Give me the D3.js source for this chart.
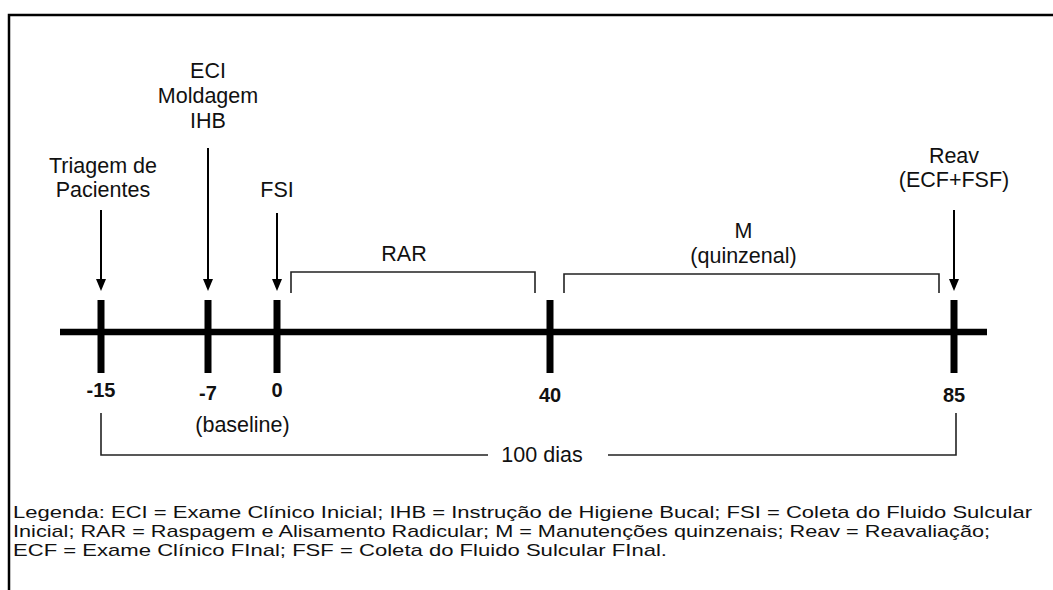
<!DOCTYPE html>
<html>
<head>
<meta charset="utf-8">
<script src="https://cdn.jsdelivr.net/npm/d3@7"></script>
<style>
  body { margin: 0; background: #fff; }
  svg text { font-family: "Liberation Sans", Arial, sans-serif; fill: #111; }
</style>
</head>
<body>
<div id="timeline"></div>
<script>
// timeline data (days relative to baseline)
var days = [-15, -7, 0, 40, 85];
var dayLabels = ["-15", "-7", "0", "40", "85"];

var arrowDays = [-15, -7, 0, 85];
var arrowLabels = [["Triagem de", "Pacientes"], ["ECI", "Moldagem", "IHB"], ["FSI"], ["Reav", "(ECF+FSF)"]];

var phaseStart = [0, 40];
var phaseEnd = [40, 85];
var phaseLabels = [["RAR"], ["M", "(quinzenal)"]];

var spanStart = -15, spanEnd = 85, spanLabel = "100 dias";
var baselineNote = "(baseline)";

var legendLines = [
    "Legenda: ECI = Exame Clínico Inicial; IHB = Instrução de Higiene Bucal; FSI = Coleta do Fluido Sulcular",
    "Inicial; RAR = Raspagem e Alisamento Radicular; M = Manutenções quinzenais; Reav = Reavaliação;",
    "ECF = Exame Clínico FInal; FSF = Coleta do Fluido Sulcular FInal."
];

function drawTimeline(){
    var W = 1053, H = 590;
    var svg = d3.select("#timeline").append("svg")
        .attr("width", W)
        .attr("height", H);

    // frame (top + left only)
    svg.append("path")
        .attr("d", "M9,590 L9,15 L1053,15")
        .attr("fill", "none")
        .attr("stroke", "#000")
        .attr("stroke-width", 2.5);

    // the day axis is not to scale in the figure -> piecewise scale
    var x = d3.scaleLinear()
        .domain(days)
        .range([101, 208, 277, 550, 954]);

    var axisY = 332;

    // main line
    svg.append("line")
        .attr("x1", 60).attr("x2", 987)
        .attr("y1", axisY).attr("y2", axisY)
        .attr("stroke", "#000")
        .attr("stroke-width", 6.5);

    // ticks
    svg.selectAll(".tick")
        .data(days)
        .enter().append("line")
        .attr("class", "tick")
        .attr("x1", function(d){ return x(d); })
        .attr("x2", function(d){ return x(d); })
        .attr("y1", 300).attr("y2", 373)
        .attr("stroke", "#000")
        .attr("stroke-width", 7);

    svg.selectAll(".daylabel")
        .data(days)
        .enter().append("text")
        .attr("class", "daylabel")
        .attr("x", function(d){ return x(d); })
        .attr("y", function(d){ return d >= 40 ? 402 : (d == -7 ? 400 : 397); })
        .attr("text-anchor", "middle")
        .style("font-size", "20px")
        .style("font-weight", "bold")
        .text(function(d, i){ return dayLabels[i]; });

    // arrows
    var arrowTop = [210, 148, 213, 210];
    var labelLastBase = [197, 128, 197, 187];

    arrowDays.forEach(function(d, i){
        svg.append("line")
            .attr("x1", x(d)).attr("x2", x(d))
            .attr("y1", arrowTop[i]).attr("y2", 280)
            .attr("stroke", "#000")
            .attr("stroke-width", 2);
        // head as a triangle ending just above the tick
        svg.append("path")
            .attr("d", "M" + (x(d) - 5) + ",279 L" + (x(d) + 5) + ",279 L" + x(d) + ",291 Z")
            .attr("fill", "#000");

        var lines = arrowLabels[i];
        var n = lines.length;
        svg.append("g").selectAll("text")
            .data(lines)
            .enter().append("text")
            .attr("x", x(d) + (i == 0 ? 2 : 0))
            .attr("y", function(t, j){ return labelLastBase[i] - (n - 1 - j) * (i == 1 ? 25 : 24); })
            .attr("text-anchor", "middle")
            .style("font-size", "21.5px")
            .text(function(t){ return t; });
    });

    // phase brackets
    var bracketTop = [272, 274];
    var labelBase = [261, 263];
    phaseStart.forEach(function(s, i){
        var x0 = x(s) + 14, x1 = x(phaseEnd[i]) - 15;
        svg.append("path")
            .attr("d", "M" + x0 + ",293 L" + x0 + "," + bracketTop[i] + " L" + x1 + "," + bracketTop[i] + " L" + x1 + ",293")
            .attr("fill", "none")
            .attr("stroke", "#222")
            .attr("stroke-width", 1.6);
        var lines = phaseLabels[i];
        var n = lines.length;
        var cx = (x0 + x1) / 2 - (i == 0 ? 9 : 8);
        svg.append("g").selectAll("text")
            .data(lines)
            .enter().append("text")
            .attr("x", cx)
            .attr("y", function(t, j){ return labelBase[i] - (n - 1 - j) * 25; })
            .attr("text-anchor", "middle")
            .style("font-size", "21.5px")
            .text(function(t){ return t; });
    });

    // (baseline) note under -7 / 0
    svg.append("text")
        .attr("x", (x(-7) + x(0)) / 2)
        .attr("y", 432)
        .attr("text-anchor", "middle")
        .style("font-size", "21.5px")
        .text(baselineNote);

    // total span bracket
    var sx0 = x(spanStart), sx1 = x(spanEnd) + 2, sy = 455;
    var tx = 542;
    svg.append("path")
        .attr("d", "M" + sx0 + ",413 L" + sx0 + "," + sy + " L" + (tx - 54) + "," + sy)
        .attr("fill", "none").attr("stroke", "#222").attr("stroke-width", 1.6);
    svg.append("path")
        .attr("d", "M" + (tx + 66) + "," + sy + " L" + sx1 + "," + sy + " L" + sx1 + ",413")
        .attr("fill", "none").attr("stroke", "#222").attr("stroke-width", 1.6);
    svg.append("text")
        .attr("x", tx)
        .attr("y", 462)
        .attr("text-anchor", "middle")
        .style("font-size", "21.5px")
        .text(spanLabel);

    // legend text, fitted to the widths of the original
    var legendW = [1019, 977, 654];
    svg.append("g").selectAll("text")
        .data(legendLines)
        .enter().append("text")
        .attr("x", 13)
        .attr("y", function(d, i){ return 518 + i * 19; })
        .attr("textLength", function(d, i){ return legendW[i]; })
        .attr("lengthAdjust", "spacingAndGlyphs")
        .style("font-size", "17px")
        .text(function(d){ return d; });
}
drawTimeline();
</script>
</body>
</html>
